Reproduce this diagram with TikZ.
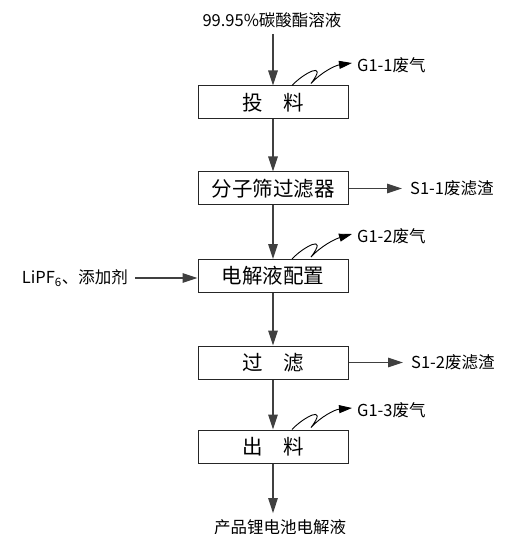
\documentclass[tikz,border=0pt]{standalone}
\usepackage{fontspec}
\setmainfont{Noto Sans CJK SC}
\usetikzlibrary{arrows.meta}
\begin{document}
\begin{tikzpicture}[x=1pt,y=-1pt,
  box/.style={draw=black!85, line width=1pt, minimum width=150pt, minimum height=33pt, inner sep=0pt, font=\fontsize{20.5}{21}\selectfont},
  lbl/.style={font=\fontsize{16.5}{17}\selectfont, inner sep=0pt},
  arr/.style={draw=black!75, line width=1.3pt, -{Triangle[length=15pt,width=9.5pt]}},
  zig/.style={draw=black, line width=0.9pt, -{Triangle[length=13pt,width=8pt]}},
]
\useasboundingbox (0,0) rectangle (504,534);
% boxes
\node[box] (b1) at (273,102.5) {投\hspace{1em}料};
\node[box] (b2) at (273,188.5) {分子筛过滤器};
\node[box] (b3) at (273,276)   {电解液配置};
\node[box] (b4) at (273,362.5) {过\hspace{1em}滤};
\node[box] (b5) at (273,446.5) {出\hspace{1em}料};
% labels
\node[lbl] (top) at (272,20) {99.95\%碳酸酯溶液};
\node[lbl] (bot) at (280,527) {产品锂电池电解液};
\node[lbl,anchor=west] (g1) at (357,65)  {G1-1废气};
\node[lbl,anchor=west] (g2) at (357,236) {G1-2废气};
\node[lbl,anchor=west] (g3) at (357,410) {G1-3废气};
\node[lbl,anchor=west] (s1) at (410,188.5) {S1-1废滤渣};
\node[lbl,anchor=west] (s2) at (411,362.5) {S1-2废滤渣};
\node[lbl,anchor=east] (lp) at (128,278) {LiPF\textsubscript{6}、添加剂};
% main flow
\draw[arr, shorten <=6pt] (b1.north |- top.south) -- (b1.north);
\draw[arr] (b1.south) -- (b2.north);
\draw[arr] (b2.south) -- (b3.north);
\draw[arr] (b3.south) -- (b4.north);
\draw[arr] (b4.south) -- (b5.north);
\draw[arr, shorten >=6pt] (b5.south) -- (b5.south |- bot.north);
% side streams
\draw[arr, shorten >=8pt] (b2.east) -- (s1.west);
\draw[arr, shorten >=8pt] (b4.east) -- (s2.west);
\draw[arr, shorten <=7pt] (lp.east) -- (lp.east -| b3.west);
% gas squiggles
\foreach \b/\g in {b1/g1, b3/g2, b5/g3}{
  \draw[zig] ([xshift=19pt]\b.north)
     .. controls ([xshift=30pt,yshift=12pt]\b.north) and ([xshift=56pt,yshift=26pt]\b.north) .. ([xshift=38pt,yshift=2pt]\b.north)
     .. controls ([xshift=48pt,yshift=13pt]\b.north) and ([xshift=62pt,yshift=20pt]\b.north) .. ([xshift=-5pt,yshift=2pt]\g.west);
}
\end{tikzpicture}
\end{document}
